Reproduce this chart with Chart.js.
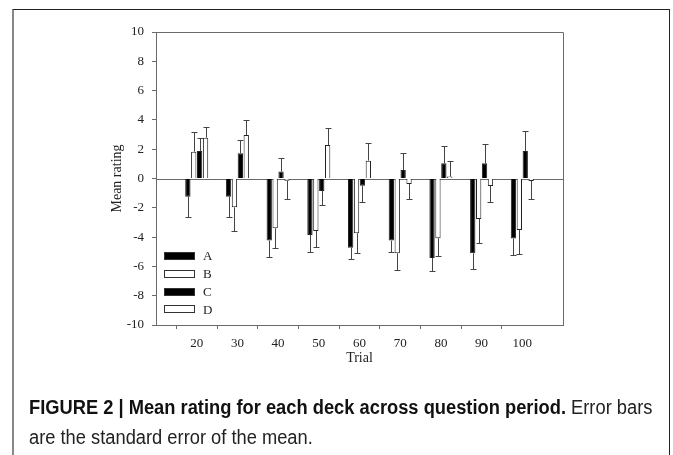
<!DOCTYPE html>
<html>
<head>
<meta charset="utf-8">
<script src="https://cdn.jsdelivr.net/npm/chart.js@4"></script>
<style>
  body { margin: 0; background: #fff; }
  #wrap { position: relative; width: 673px; height: 455px; overflow: hidden; }
  #frame { position: absolute; left: 12px; top: 9px; width: 655px; height: 470px;
           border: 1px solid #222; border-left: 2px solid #888; }
  #caption { position: absolute; left: 29px; top: 392px; width: 760px; white-space: nowrap;
             font-family: "Liberation Sans", Arial, sans-serif;
             font-size: 20px; line-height: 30px; color: #222;
             transform: scaleX(0.915); transform-origin: 0 0; }
  #caption b { color: #111; }
</style>
</head>
<body>
<div id="wrap">
  <div id="frame"></div>
  <canvas id="myChart" width="673" height="455"></canvas>
  <div id="caption"><b>FIGURE 2 | Mean rating for each deck across question period.</b> Error bars<br>are the standard error of the mean.</div>
</div>
<script>
var trials = ['20', '30', '40', '50', '60', '70', '80', '90', '100']
var deckNames = ['A', 'B', 'C', 'D']

var meanA = [-1.24, -1.24, -4.24, -3.86, -4.72, -4.24, -5.43, -5.11, -4.10]
var meanB = [1.83, -1.97, -3.40, -3.58, -3.74, -5.11, -4.08, -2.76, -3.52]
var meanC = [1.88, 1.72, 0.47, -0.85, -0.49, 0.58, 1.04, 1.04, 1.88]
var meanD = [2.79, 2.97, -0.15, 2.29, 1.22, -0.38, 0.13, -0.51, -0.17]

var seA = [1.36, 1.36, 1.10, 1.19, 0.80, 0.76, 0.88, 1.04, 1.12]
var seB = [1.37, 1.61, 1.32, 1.12, 1.32, 1.14, 1.21, 1.67, 1.66]
var seC = [0.86, 0.91, 0.91, 0.98, 1.09, 1.14, 1.18, 1.34, 1.38]
var seD = [0.70, 1.03, 1.27, 1.18, 1.23, 1.04, 1.09, 1.09, 1.23]

var yTicks = [10, 8, 6, 4, 2, 0, -2, -4, -6, -8, -10]

// axis runs from 10 to 110, empty slot at each end
var labels = ['10'].concat(trials).concat(['110'])
function pad(arr) { return [null].concat(arr).concat([null]) }

var serif = 'Liberation Serif'
var axisColor = '#6a6a6a'

var means = [meanA, meanB, meanC, meanD]
var errs = [seA, seB, seC, seD]
var fills = ['#000', '#fff', '#000', '#fff']

var datasets = []
for (var i = 0; i < means.length; i++) {
  datasets.push({
    label: deckNames[i],
    data: pad(means[i]),
    se: pad(errs[i]),
    backgroundColor: fills[i],
    borderColor: '#222',
    borderWidth: 1,
    categoryPercentage: 0.58,
    barPercentage: 0.9
  })
}

var extras = {
  id: 'extras',
  beforeDatasetsDraw(chart) {
    var ctx = chart.ctx, a = chart.chartArea
    var y0 = chart.scales.y.getPixelForValue(0)
    ctx.save()
    ctx.strokeStyle = axisColor
    ctx.lineWidth = 1
    ctx.beginPath()
    ctx.moveTo(a.left, Math.round(y0) + 0.5)
    ctx.lineTo(a.right, Math.round(y0) + 0.5)
    ctx.stroke()
    ctx.restore()
  },
  afterDatasetsDraw(chart) {
    var ctx = chart.ctx, ys = chart.scales.y
    ctx.save()
    ctx.strokeStyle = '#444'
    ctx.lineWidth = 1
    chart.data.datasets.forEach(function (ds, di) {
      var meta = chart.getDatasetMeta(di)
      meta.data.forEach(function (bar, k) {
        var v = ds.data[k]
        if (v === null) return
        var end = v >= 0 ? v + ds.se[k] : v - ds.se[k]
        var x = Math.round(bar.x) + 0.5
        var yA = ys.getPixelForValue(v)
        var yB = Math.round(ys.getPixelForValue(end)) + 0.5
        ctx.beginPath()
        ctx.moveTo(x, yA)
        ctx.lineTo(x, yB)
        ctx.moveTo(x - 3, yB)
        ctx.lineTo(x + 3, yB)
        ctx.stroke()
      })
    })
    ctx.restore()
  },
  afterDraw(chart) {
    var ctx = chart.ctx, a = chart.chartArea
    ctx.save()
    // plot box
    ctx.strokeStyle = axisColor
    ctx.lineWidth = 1
    ctx.beginPath()
    ctx.moveTo(a.left, a.top + 0.5)
    ctx.lineTo(a.right + 0.5, a.top + 0.5)
    ctx.lineTo(a.right + 0.5, a.bottom)
    ctx.stroke()
    // legend inside the plot, bottom left
    ctx.font = '13px ' + serif
    ctx.textBaseline = 'middle'
    chart.data.datasets.forEach(function (ds, i) {
      var yc = 256 + i * 17.8
      ctx.fillStyle = ds.backgroundColor
      ctx.fillRect(164.5, Math.round(yc - 4) + 0.5, 30, 7)
      ctx.strokeStyle = '#333'
      ctx.strokeRect(164.5, Math.round(yc - 4) + 0.5, 30, 7)
      ctx.fillStyle = '#222'
      ctx.fillText(ds.label, 203, yc + 1)
    })
    ctx.restore()
  }
}

new Chart('myChart', {
  type: 'bar',
  data: { labels: labels, datasets: datasets },
  options: {
    responsive: false,
    animation: false,
    devicePixelRatio: 1,
    layout: { padding: { left: 104, top: 32, right: 110, bottom: 88 } },
    plugins: { legend: { display: false }, tooltip: { enabled: false } },
    scales: {
      x: {
        offset: false,
        grid: {
          drawOnChartArea: false,
          tickLength: 4,
          tickColor: function (c) { return (c.index === 0 || c.index === labels.length - 1) ? 'rgba(0,0,0,0)' : axisColor }
        },
        border: { color: axisColor },
        ticks: {
          autoSkip: false, maxRotation: 0, padding: 7,
          color: '#222', font: { family: serif, size: 13 },
          callback: function (v, i) { return (i === 0 || i === labels.length - 1) ? '' : labels[i] }
        },
        title: { display: true, text: 'Trial', color: '#222', font: { family: serif, size: 14 }, padding: { top: 0, bottom: 0 } },
        afterFit: function (s) { s.height = 42 }
      },
      y: {
        min: -10, max: 10,
        afterBuildTicks: function (s) { s.ticks = yTicks.map(function (v) { return { value: v } }) },
        grid: { drawOnChartArea: false, tickLength: 4, tickColor: axisColor },
        border: { color: axisColor },
        ticks: { padding: 8, color: '#222', font: { family: serif, size: 13 } },
        title: { display: true, text: 'Mean rating', color: '#222', font: { family: serif, size: 14 }, padding: { top: 5, bottom: 0 } },
        afterFit: function (s) { s.width = 52 }
      }
    }
  },
  plugins: [extras]
})
</script>
</body>
</html>
